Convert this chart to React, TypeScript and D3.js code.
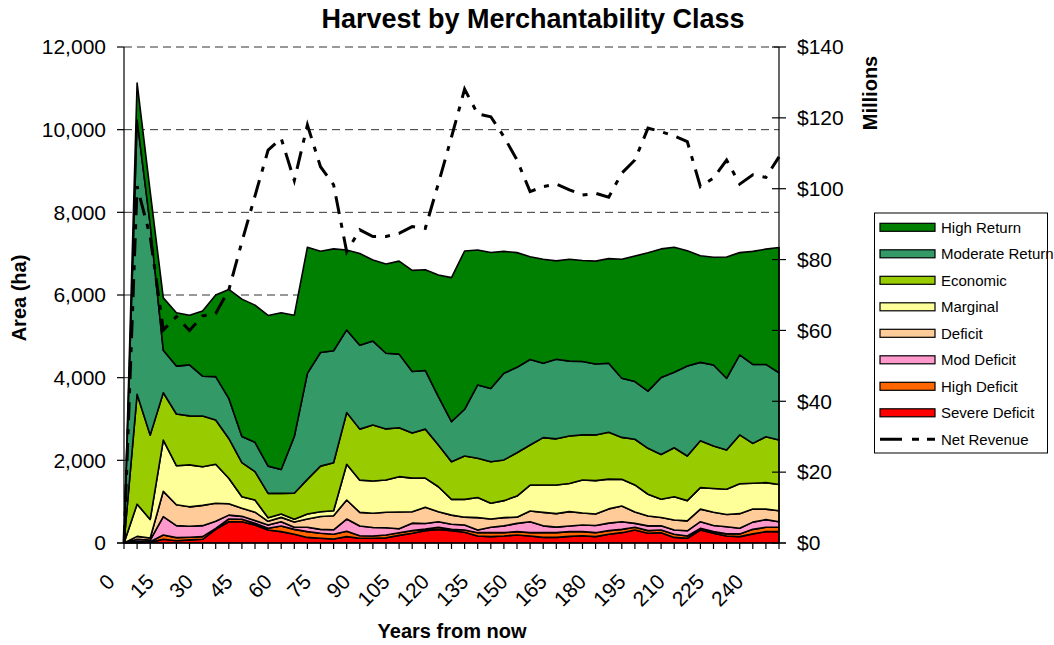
import React from "react";
import * as d3 from "d3";

const years = [0,5,10,15,20,25,30,35,40,45,50,55,60,65,70,75,80,85,90,95,100,105,110,115,120,125,130,135,140,145,150,155,160,165,170,175,180,185,190,195,200,205,210,215,220,225,230,235,240,245,250];

const severeDeficit = [0,10,15,90,55,75,90,330,515,515,435,315,275,210,135,115,95,155,115,115,125,185,235,300,330,300,260,170,155,170,195,170,135,135,160,175,155,210,250,315,235,250,135,115,315,235,170,155,220,275,275];
const highDeficit = [0,30,15,105,75,65,65,25,65,60,40,40,135,120,140,120,115,130,60,55,70,65,65,35,50,30,55,80,95,80,80,80,115,115,115,100,95,90,80,65,65,65,75,55,40,40,50,65,110,105,105];
const modDeficit = [0,50,40,445,290,265,265,170,95,70,70,80,105,50,105,95,110,295,235,205,175,95,180,135,135,125,120,65,130,165,200,265,165,135,135,160,175,180,185,95,115,100,105,125,160,150,175,135,175,185,135];
const deficit = [0,70,50,610,505,470,490,435,275,195,200,90,105,130,200,310,340,460,330,345,375,405,275,395,240,220,190,300,200,200,150,260,325,325,350,290,275,345,380,275,240,200,240,240,305,320,295,355,315,255,265];
const marginal = [0,780,450,1240,945,1015,935,945,615,280,295,85,80,65,120,115,120,865,780,780,780,855,815,705,605,380,430,485,380,410,510,625,665,695,680,800,810,720,645,655,525,445,565,490,520,575,610,725,625,640,635];
const economic = [0,2660,2040,1145,1250,1185,1225,1070,965,825,685,590,500,630,840,1105,1160,1250,1235,1355,1235,1185,1090,1185,1010,910,1050,950,1005,985,1050,970,1145,1115,1150,1090,1105,1135,1015,1105,1110,1080,1185,1080,1135,1025,950,1180,965,1110,1075];
const moderateReturn = [0,6630,5090,1030,1160,1235,965,1050,970,630,710,660,580,1370,2565,2750,2710,2000,2030,2030,1830,1780,1490,1420,1170,970,1130,1775,1775,2095,2065,2070,1800,1925,1810,1775,1715,1670,1430,1395,1385,1865,1825,2175,1895,1960,1735,1935,1910,1750,1630];
const highReturn = [0,900,800,1265,1290,1200,1580,1975,2635,3325,3320,3645,3790,2935,3050,2450,2465,1935,2220,1960,2160,2250,2445,2435,2945,3485,3830,3265,3290,2950,2775,2485,2515,2380,2465,2445,2490,2530,2880,3040,3345,3110,3025,2790,2580,2610,2935,2475,2735,2790,3030];
const netRevenue = [0,100.7,86.5,60.1,63.9,60,64.1,64.8,71.4,85,98,110.9,114.2,102.3,118,106.2,101.1,82.2,88.4,86.5,86.5,87.4,89.3,88.8,101.5,114.6,128.1,121.1,120.3,114.7,108.1,99.2,100.6,101.3,99.7,98.2,98.7,97.6,104.4,108.1,117.1,116.1,114.9,113.3,100.6,103,108.1,101.3,103.9,103.2,109];

const seriesNames = ["Severe Deficit","High Deficit","Mod Deficit","Deficit","Marginal","Economic","Moderate Return","High Return"];
const seriesValues = [severeDeficit, highDeficit, modDeficit, deficit, marginal, economic, moderateReturn, highReturn];
const seriesColors = ["#FF0000","#FF6600","#FF99CC","#FFCC99","#FFFF99","#99CC00","#339966","#008000"];

const leftTicks = [0,2000,4000,6000,8000,10000,12000];
const rightTicks = [0,20,40,60,80,100,120,140];

const FONT = "Arial, 'Liberation Sans', sans-serif";

export default function App() {
  const W = 1054, H = 645;
  const left = 124, right = 779, top = 47, bottom = 543;

  const x = d3.scalePoint<number>().domain(years).range([left, right]);
  const y = d3.scaleLinear().domain([0, 12000]).range([bottom, top]);
  const y2 = d3.scaleLinear().domain([0, 140]).range([bottom, top]);

  const table = years.map((yr, i) => {
    const row: any = { year: yr };
    seriesNames.forEach((n, k) => (row[n] = seriesValues[k][i]));
    return row;
  });
  const stacked = d3.stack<any>().keys(seriesNames)(table);
  const area = d3.area<any>()
    .x((d) => x(d.data.year) as number)
    .y0((d) => y(d[0]))
    .y1((d) => y(d[1]));
  const line = d3.line<number>()
    .x((_, i) => x(years[i]) as number)
    .y((d) => y2(d));

  const fmt = d3.format(",");
  const legendOrder = [...seriesNames].reverse();
  const legendY0 = 227.3, legendStep = 26.5;

  return (
    <svg width={W} height={H} style={{ position: "absolute", left: 0, top: 0, background: "#fff" }} fontFamily={FONT}>
      <rect x={0} y={0} width={W} height={H} fill="#fff" />
      {/* title */}
      <text x={533} y={28} textAnchor="middle" fontSize={27} fontWeight="bold">Harvest by Merchantability Class</text>

      {/* gridlines */}
      {leftTicks.filter((t) => t > 0).map((t) => (
        <line key={"g" + t} x1={left} x2={right} y1={y(t)} y2={y(t)} stroke="#333" strokeWidth={1} strokeDasharray="8,5" />
      ))}

      {/* areas */}
      {stacked.map((s, k) => (
        <path key={s.key} d={area(s) as string} fill={seriesColors[k]} stroke="#000" strokeWidth={1.6} strokeLinejoin="round" />
      ))}

      {/* net revenue */}
      <path d={line(netRevenue) as string} fill="none" stroke="#000" strokeWidth={3} strokeDasharray="18,9,5,9" />

      {/* left axis */}
      <line x1={left} x2={left} y1={top} y2={bottom} stroke="#000" strokeWidth={1.2} />
      {leftTicks.map((t) => (
        <g key={"l" + t}>
          <line x1={left - 7} x2={left} y1={y(t)} y2={y(t)} stroke="#000" strokeWidth={1.2} />
          <text x={left - 18} y={y(t)} dy="0.35em" textAnchor="end" fontSize={21}>{fmt(t)}</text>
        </g>
      ))}

      {/* right axis */}
      <line x1={right} x2={right} y1={top} y2={bottom} stroke="#000" strokeWidth={1.2} />
      {rightTicks.map((t) => (
        <g key={"r" + t}>
          <line x1={right - 7} x2={right + 7} y1={y2(t)} y2={y2(t)} stroke="#000" strokeWidth={1.2} />
          <text x={right + 18} y={y2(t)} dy="0.35em" textAnchor="start" fontSize={21}>{"$" + t}</text>
        </g>
      ))}

      {/* x axis */}
      <line x1={left - 7} x2={right + 7} y1={bottom} y2={bottom} stroke="#000" strokeWidth={1.2} />
      {years.map((yr, i) => (
        <g key={"x" + yr}>
          <line x1={x(yr)} x2={x(yr)} y1={bottom} y2={bottom + 6} stroke="#000" strokeWidth={1.2} />
          {i % 3 === 0 && (
            <text transform={`translate(${(x(yr) as number) - 8},${bottom + 40}) rotate(-45)`} textAnchor="end" fontSize={21}>{yr}</text>
          )}
        </g>
      ))}

      {/* axis titles */}
      <text x={452} y={638} textAnchor="middle" fontSize={20} fontWeight="bold">Years from now</text>
      <text transform={`translate(26,298) rotate(-90)`} textAnchor="middle" fontSize={20} fontWeight="bold">Area (ha)</text>
      <text transform={`translate(877,93) rotate(-90)`} textAnchor="middle" fontSize={20} fontWeight="bold">Millions</text>

      {/* legend */}
      <rect x={874.5} y={213} width={173} height={240} fill="#fff" stroke="#000" strokeWidth={1} />
      {legendOrder.map((n, j) => {
        const k = seriesNames.indexOf(n);
        const cy = legendY0 + j * legendStep;
        return (
          <g key={"lg" + n}>
            <rect x={880} y={cy - 4} width={55} height={8} fill={seriesColors[k]} stroke="#000" strokeWidth={1.2} />
            <text x={941} y={cy} dy="0.35em" fontSize={15}>{n}</text>
          </g>
        );
      })}
      <g>
        <line x1={880} x2={935} y1={legendY0 + 8 * legendStep} y2={legendY0 + 8 * legendStep} stroke="#000" strokeWidth={3} strokeDasharray="22,10,7,8" />
        <text x={941} y={legendY0 + 8 * legendStep} dy="0.35em" fontSize={15}>Net Revenue</text>
      </g>
    </svg>
  );
}
